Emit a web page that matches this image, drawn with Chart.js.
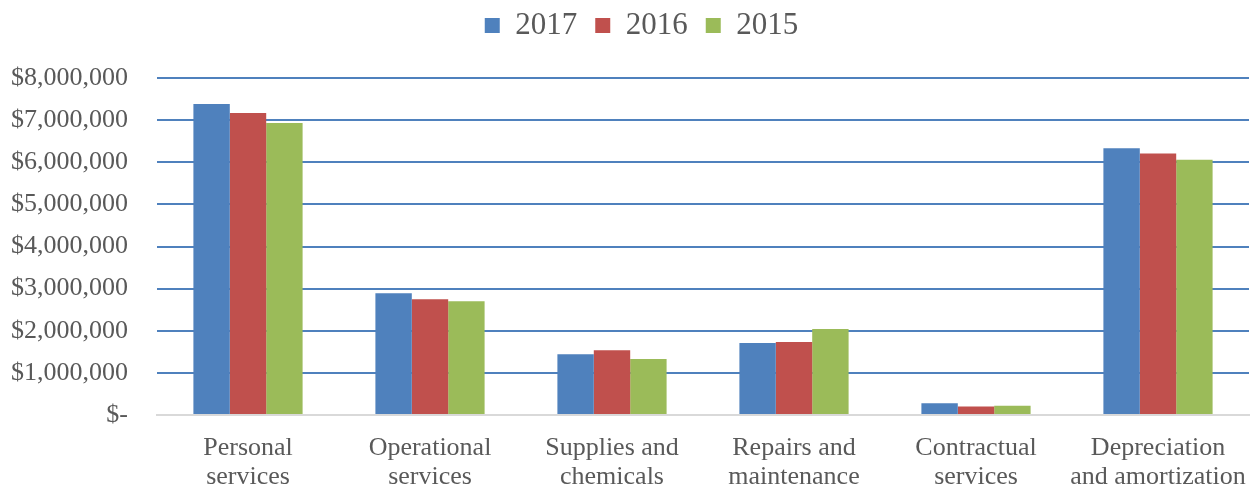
<!DOCTYPE html>
<html>
<head>
<meta charset="utf-8">
<script src="https://cdn.jsdelivr.net/npm/chart.js@4"></script>
<style>
  html, body { margin: 0; padding: 0; background: #fff; overflow: hidden; }
  canvas { display: block; }
</style>
</head>
<body>
<canvas id="chart" width="1256" height="488"></canvas>
<script>
// categories and values
const categories = [
    ['Personal', 'services'],
    ['Operational', 'services'],
    ['Supplies and', 'chemicals'],
    ['Repairs and', 'maintenance'],
    ['Contractual', 'services'],
    ['Depreciation', 'and amortization']
];
const years = ['2017', '2016', '2015'];
const values2017 = [7380000, 2890000, 1440000, 1710000, 280000, 6330000];
const values2016 = [7170000, 2745000, 1540000, 1735000, 200000, 6210000];
const values2015 = [6930000, 2700000, 1330000, 2040000, 220000, 6060000];
const yTicks = [0, 1000000, 2000000, 3000000, 4000000, 5000000, 6000000, 7000000, 8000000];

const colors = ['#4f81bd', '#c0504d', '#9bbb59'];
const textColor = '#595959';
const serif = "'Liberation Serif', 'Times New Roman', serif";

// move the legend up/right a bit so it sits where the original one does
const legendShift = {
    id: 'legendShift',
    afterLayout(chart) {
        chart.legend.top -= 27;
        chart.legend.bottom -= 27;
        chart.legend.left += 17;
        chart.legend.right += 17;
    }
};

function money(v) {
    if (v === 0) return '$-';
    return '$' + v.toLocaleString('en-US');
}

new Chart(document.getElementById('chart'), {
    type: 'bar',
    data: {
        labels: categories,
        datasets: [
            { label: years[0], data: values2017, backgroundColor: colors[0] },
            { label: years[1], data: values2016, backgroundColor: colors[1] },
            { label: years[2], data: values2015, backgroundColor: colors[2] }
        ]
    },
    options: {
        responsive: false,
        animation: false,
        devicePixelRatio: 1,
        layout: { padding: { top: 19, right: 7, bottom: 1, left: 0 } },
        datasets: {
            bar: { categoryPercentage: 0.6, barPercentage: 1.0 }
        },
        plugins: {
            tooltip: { enabled: false },
            legend: {
                position: 'top',
                labels: {
                    boxWidth: 15,
                    boxHeight: 15,
                    padding: 18,
                    color: textColor,
                    font: { family: serif, size: 31 }
                }
            }
        },
        scales: {
            x: {
                afterFit(scale) {
                    scale.height = 72;
                    scale.paddingLeft = 0;
                    scale.paddingRight = 0;
                },
                grid: { display: false, drawTicks: false },
                border: { display: true, color: '#d9d9d9', width: 2 },
                ticks: {
                    color: textColor,
                    padding: 19,
                    maxRotation: 0,
                    autoSkip: false,
                    font: { family: serif, size: 26, lineHeight: 1.1 }
                }
            },
            y: {
                min: 0,
                max: 8000000,
                afterFit(scale) {
                    scale.width = 157;
                    scale.paddingTop = 0;
                    scale.paddingBottom = 0;
                },
                afterBuildTicks(scale) {
                    scale.ticks = yTicks.map(v => ({ value: v }));
                },
                border: { display: false },
                grid: {
                    drawTicks: false,
                    lineWidth: 2,
                    color: (c) => c.tick && c.tick.value === 0 ? '#d9d9d9' : '#4f81bd'
                },
                ticks: {
                    color: textColor,
                    padding: 29,
                    callback: (v) => money(v),
                    font: { family: serif, size: 26 }
                }
            }
        }
    },
    plugins: [legendShift]
});
</script>
</body>
</html>
